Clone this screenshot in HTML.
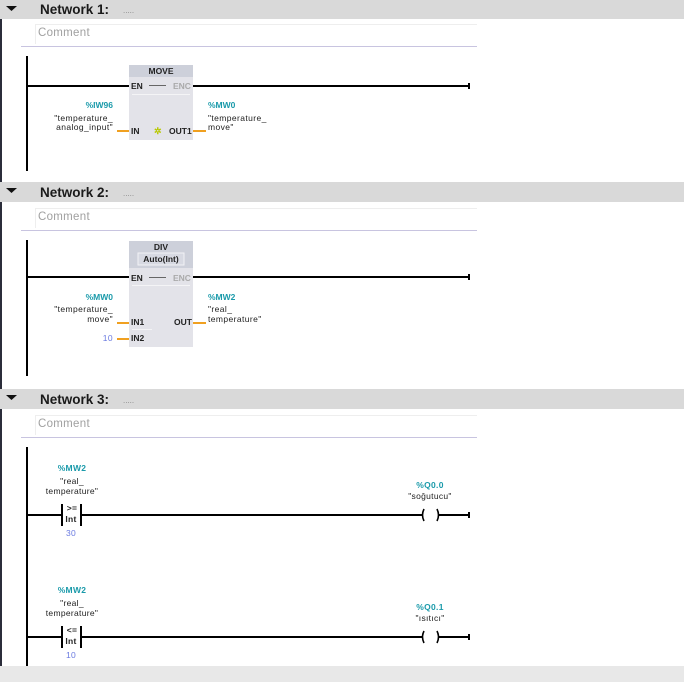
<!DOCTYPE html>
<html><head><meta charset="utf-8"><style>
html,body{margin:0;padding:0;background:#fff;width:684px;height:682px;overflow:hidden}
svg{display:block}
text{font-family:"Liberation Sans",sans-serif}
</style></head><body>
<svg width="684" height="682" viewBox="0 0 684 682" xmlns="http://www.w3.org/2000/svg">
<rect x="0" y="0" width="684" height="682" fill="#fff"/>
<rect x="0" y="0" width="2" height="666" fill="#2b2d3a"/>
<g font-size="13.5" font-weight="bold" fill="#1a1a1a">
<rect x="0" y="0" width="684" height="19" fill="#d9d9d9"/>
<polygon points="6,6 17,6 11.5,11" fill="#111"/>
<text x="40" y="14">Network 1:</text>
<text x="123" y="13" font-size="8" font-weight="normal" fill="#888">.....</text>
<rect x="0" y="182" width="684" height="20" fill="#d9d9d9"/>
<polygon points="6,188 17,188 11.5,193" fill="#111"/>
<text x="40" y="197">Network 2:</text>
<text x="123" y="196" font-size="8" font-weight="normal" fill="#888">.....</text>
<rect x="0" y="389" width="684" height="20" fill="#d9d9d9"/>
<polygon points="6,395 17,395 11.5,400" fill="#111"/>
<text x="40" y="404">Network 3:</text>
<text x="123" y="403" font-size="8" font-weight="normal" fill="#888">.....</text>
</g>
<rect x="0" y="666" width="684" height="16" fill="#e8e8e8"/>
<g font-size="11.5" fill="#a0a0a0" letter-spacing="0.3">
<rect x="35" y="24" width="442" height="1" fill="#eee"/><rect x="35" y="24" width="1" height="20" fill="#eee"/>
<rect x="21" y="46" width="456" height="1" fill="#c8c4e0"/>
<text x="38" y="36">Comment</text>
<rect x="35" y="208" width="442" height="1" fill="#eee"/><rect x="35" y="208" width="1" height="20" fill="#eee"/>
<rect x="21" y="230" width="456" height="1" fill="#c8c4e0"/>
<text x="38" y="220">Comment</text>
<rect x="35" y="415" width="442" height="1" fill="#eee"/><rect x="35" y="415" width="1" height="20" fill="#eee"/>
<rect x="21" y="437" width="456" height="1" fill="#c8c4e0"/>
<text x="38" y="427">Comment</text>
</g>
<rect x="26" y="56" width="2" height="115" fill="#000"/>
<rect x="26" y="240" width="2" height="136" fill="#000"/>
<rect x="26" y="447" width="2" height="219" fill="#000"/>
<!-- Network1 -->
<rect x="28" y="85" width="101" height="2" fill="#000"/>
<rect x="193" y="85" width="276" height="2" fill="#000"/>
<rect x="468" y="83" width="2" height="6" fill="#000"/>
<rect x="129" y="65" width="64" height="75" fill="#e3e3e9"/>
<rect x="129" y="65" width="64" height="12" fill="#cdd0da"/>
<rect x="132" y="94" width="58" height="1" fill="#f4f4f6"/>
<g font-size="8.5" font-weight="bold">
<text x="161" y="74" text-anchor="middle" fill="#222">MOVE</text>
<text x="131" y="89" fill="#222">EN</text>
<rect x="149" y="85" width="17" height="1" fill="#666"/>
<text x="173" y="89" fill="#aaa">ENC</text>
<text x="131" y="134" fill="#222">IN</text>
<text x="169" y="134" fill="#222">OUT1</text>
<text x="154" y="134" fill="#b8c800" font-size="9">✲</text>
<text x="113" y="108" text-anchor="end" fill="#1a9aaa">%IW96</text>
<text x="208" y="108" fill="#1a9aaa">%MW0</text>
</g>
<rect x="117" y="130" width="12" height="2" fill="#f0a020"/>
<rect x="193" y="130" width="13" height="2" fill="#f0a020"/>
<g font-size="8.5" fill="#222" letter-spacing="0.4">
<text x="113" y="121" text-anchor="end">"temperature_</text>
<text x="113" y="130" text-anchor="end">analog_input"</text>
<text x="208" y="121">"temperature_</text>
<text x="208" y="130">move"</text>
</g>
<!-- Network2 -->
<rect x="28" y="276" width="101" height="2" fill="#000"/>
<rect x="193" y="276" width="276" height="2" fill="#000"/>
<rect x="468" y="274" width="2" height="6" fill="#000"/>
<rect x="129" y="241" width="64" height="106" fill="#e3e3e9"/>
<rect x="129" y="241" width="64" height="27" fill="#cdd0da"/>
<rect x="138" y="253" width="46" height="12" fill="#d7d9e2" stroke="#f2f2f5" stroke-width="1"/>
<rect x="132" y="285" width="58" height="1" fill="#f4f4f6"/>
<rect x="132" y="329" width="20" height="1" fill="#f4f4f6"/>
<g font-size="8.5" font-weight="bold">
<text x="161" y="250" text-anchor="middle" fill="#222">DIV</text>
<text x="161" y="262" text-anchor="middle" fill="#222">Auto(Int)</text>
<text x="131" y="281" fill="#222">EN</text>
<rect x="149" y="277" width="17" height="1" fill="#666"/>
<text x="173" y="281" fill="#aaa">ENC</text>
<text x="131" y="325" fill="#222">IN1</text>
<text x="131" y="341" fill="#222">IN2</text>
<text x="174" y="325" fill="#222">OUT</text>
<text x="113" y="300" text-anchor="end" fill="#1a9aaa">%MW0</text>
<text x="208" y="300" fill="#1a9aaa">%MW2</text>
</g>
<rect x="117" y="322" width="12" height="2" fill="#f0a020"/>
<rect x="117" y="338" width="12" height="2" fill="#f0a020"/>
<rect x="193" y="322" width="13" height="2" fill="#f0a020"/>
<g font-size="8.5" fill="#222" letter-spacing="0.4">
<text x="113" y="312" text-anchor="end">"temperature_</text>
<text x="113" y="322" text-anchor="end">move"</text>
<text x="208" y="312">"real_</text>
<text x="208" y="322">temperature"</text>
<text x="113" y="341" text-anchor="end" fill="#6a7ae0">10</text>
</g>
<!-- Network3 -->
<g>
<rect x="28" y="514" width="34" height="2" fill="#000"/>
<rect x="80" y="514" width="343" height="2" fill="#000"/>
<rect x="61" y="504" width="2" height="22" fill="#000"/>
<rect x="80" y="504" width="2" height="22" fill="#000"/>
<path d="M424,509 Q421,515 424,521" stroke="#000" stroke-width="1.6" fill="none"/>
<path d="M437,509 Q440,515 437,521" stroke="#000" stroke-width="1.6" fill="none"/>
<rect x="439" y="514" width="30" height="2" fill="#000"/>
<rect x="468" y="512" width="2" height="6" fill="#000"/>
<rect x="28" y="636" width="34" height="2" fill="#000"/>
<rect x="80" y="636" width="343" height="2" fill="#000"/>
<rect x="61" y="626" width="2" height="22" fill="#000"/>
<rect x="80" y="626" width="2" height="22" fill="#000"/>
<path d="M424,631 Q421,637 424,643" stroke="#000" stroke-width="1.6" fill="none"/>
<path d="M437,631 Q440,637 437,643" stroke="#000" stroke-width="1.6" fill="none"/>
<rect x="439" y="636" width="30" height="2" fill="#000"/>
<rect x="468" y="634" width="2" height="6" fill="#000"/>
</g>
<g font-size="8.5" text-anchor="middle" letter-spacing="0.3">
<text x="72" y="471" font-weight="bold" fill="#1a9aaa">%MW2</text>
<text x="72" y="484" fill="#222">"real_</text>
<text x="72" y="494" fill="#222">temperature"</text>
<text x="72" y="511" font-weight="bold" fill="#222">&gt;=</text>
<text x="71" y="522" font-weight="bold" fill="#222">Int</text>
<text x="71" y="536" fill="#6a7ae0">30</text>
<text x="72" y="593" font-weight="bold" fill="#1a9aaa">%MW2</text>
<text x="72" y="606" fill="#222">"real_</text>
<text x="72" y="616" fill="#222">temperature"</text>
<text x="72" y="633" font-weight="bold" fill="#222">&lt;=</text>
<text x="71" y="644" font-weight="bold" fill="#222">Int</text>
<text x="71" y="658" fill="#6a7ae0">10</text>
<text x="430" y="488" font-weight="bold" fill="#1a9aaa">%Q0.0</text>
<text x="430" y="499" fill="#222">"soğutucu"</text>
<text x="430" y="610" font-weight="bold" fill="#1a9aaa">%Q0.1</text>
<text x="430" y="621" fill="#222">"ısıtıcı"</text>
</g>
</svg>
</body></html>
